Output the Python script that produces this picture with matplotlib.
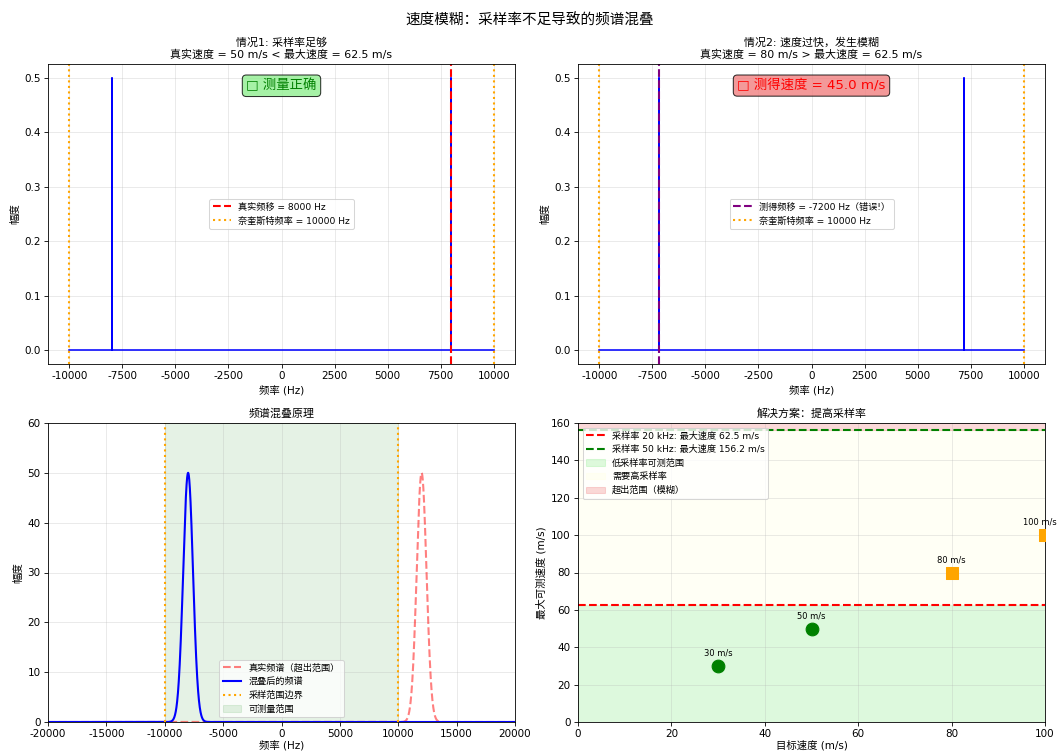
import numpy as np
import matplotlib
matplotlib.use("Agg")
import matplotlib.pyplot as plt

plt.rcParams['font.family'] = ['DejaVu Sans', 'Noto Sans CJK SC']
plt.rcParams['axes.unicode_minus'] = False

# ---------------- data ----------------
nyquist = 10000                  # Hz (fs = 20 kHz)
v_max_low = 62.5                 # m/s at 20 kHz
v_max_high = 156.25              # m/s at 50 kHz

# case 1: spectrum peaks
case1_peak_freqs = [-8000, 8000]
case1_peak_amps = [0.5, 0.5]
case1_true_shift = 8000

# case 2: spectrum peaks (aliased)
case2_peak_freqs = [-7200, 7200]
case2_peak_amps = [0.5, 0.5]
case2_measured_shift = -7200
case2_measured_speed = 45.0

# aliasing principle (gaussian peaks: center, height, width)
true_peak_center = 12000
alias_peak_center = -8000
peak_height = 50
peak_sigma = 420
alias_xlim = [-20000, 20000]

# solution panel
target_speeds = [30, 50, 80, 100]
speed_labels = ['30 m/s', '50 m/s', '80 m/s', '100 m/s']

# ---------------- figure ----------------
W, H = 1059, 751
fig = plt.figure(figsize=(W / 75, H / 75), dpi=75)

def ax_at(l, t, r, b):
    return fig.add_axes([l / W, 1 - b / H, (r - l) / W, (b - t) / H])

ax1 = ax_at(48, 64, 515, 364)
ax2 = ax_at(578, 64, 1045, 364)
ax3 = ax_at(48, 423, 515, 722)
ax4 = ax_at(578, 423, 1045, 722)

TITLE_FS = 10.5
LEG_FS = 8.8

fig.suptitle('速度模糊：采样率不足导致的频谱混叠', fontsize=14, y=1 - 20 / H, va='center')


def spike_line(peaks, amps, lo, hi):
    xs, ys = [lo], [0.0]
    for f, a in sorted(zip(peaks, amps)):
        xs += [f, f, f]
        ys += [0.0, a, 0.0]
    xs.append(hi)
    ys.append(0.0)
    return xs, ys


# ---- panel 1 ----
x, y = spike_line(case1_peak_freqs, case1_peak_amps, -nyquist, nyquist)
ax1.plot(x, y, 'b-', linewidth=1.5)
ax1.axvline(case1_true_shift, color='r', linestyle='--', linewidth=2,
            label=f'真实频移 = {case1_true_shift} Hz')
ax1.axvline(nyquist, color='orange', linestyle=':', linewidth=2,
            label=f'奈奎斯特频率 = {nyquist} Hz')
ax1.axvline(-nyquist, color='orange', linestyle=':', linewidth=2)
ax1.set_title('情况1: 采样率足够\n真实速度 = 50 m/s < 最大速度 = 62.5 m/s', fontsize=TITLE_FS)
ax1.set_xlabel('频率 (Hz)')
ax1.set_ylabel('幅度')
ax1.legend(loc='center', fontsize=LEG_FS)
ax1.grid(True, alpha=0.3)
ax1.text(0.5, 0.95, '□ 测量正确', transform=ax1.transAxes, ha='center', va='top',
         fontsize=12.8, color='green',
         bbox=dict(boxstyle='round', facecolor='lightgreen', alpha=0.8))

# ---- panel 2 ----
x, y = spike_line(case2_peak_freqs, case2_peak_amps, -nyquist, nyquist)
ax2.plot(x, y, 'b-', linewidth=1.5)
ax2.axvline(case2_measured_shift, color='purple', linestyle='--', linewidth=2,
            label=f'测得频移 = {case2_measured_shift} Hz（错误!）')
ax2.axvline(nyquist, color='orange', linestyle=':', linewidth=2,
            label=f'奈奎斯特频率 = {nyquist} Hz')
ax2.axvline(-nyquist, color='orange', linestyle=':', linewidth=2)
ax2.set_title('情况2: 速度过快，发生模糊\n真实速度 = 80 m/s > 最大速度 = 62.5 m/s', fontsize=TITLE_FS)
ax2.set_xlabel('频率 (Hz)')
ax2.set_ylabel('幅度')
ax2.legend(loc='center', fontsize=LEG_FS)
ax2.grid(True, alpha=0.3)
ax2.text(0.5, 0.95, f'□ 测得速度 = {case2_measured_speed:.1f} m/s', transform=ax2.transAxes,
         ha='center', va='top', fontsize=12.8, color='red',
         bbox=dict(boxstyle='round', facecolor='lightcoral', alpha=0.8))

# ---- panel 3 ----
f_axis = np.linspace(alias_xlim[0], alias_xlim[1], 4001)
true_spec = peak_height * np.exp(-(f_axis - true_peak_center) ** 2 / (2 * peak_sigma ** 2))
alias_spec = peak_height * np.exp(-(f_axis - alias_peak_center) ** 2 / (2 * peak_sigma ** 2))
ax3.plot(f_axis, true_spec, 'r--', linewidth=2, alpha=0.5, label='真实频谱（超出范围）')
ax3.plot(f_axis, alias_spec, 'b-', linewidth=2, label='混叠后的频谱')
ax3.axvline(nyquist, color='orange', linestyle=':', linewidth=2, label='采样范围边界')
ax3.axvline(-nyquist, color='orange', linestyle=':', linewidth=2)
ax3.axvspan(-nyquist, nyquist, color='green', alpha=0.1, label='可测量范围')
ax3.set_xlim(alias_xlim)
ax3.set_ylim(0, 60)
ax3.set_title('频谱混叠原理', fontsize=TITLE_FS)
ax3.set_xlabel('频率 (Hz)', labelpad=1)
ax3.set_ylabel('幅度')
ax3.legend(loc='lower center', fontsize=LEG_FS)
ax3.grid(True, alpha=0.3)

# ---- panel 4 ----
ax4.axhline(v_max_low, color='r', linestyle='--', linewidth=2,
            label=f'采样率 20 kHz: 最大速度 {v_max_low:.1f} m/s')
ax4.axhline(v_max_high, color='g', linestyle='--', linewidth=2,
            label=f'采样率 50 kHz: 最大速度 {v_max_high:.1f} m/s')
ax4.axhspan(0, v_max_low, color='lightgreen', alpha=0.3, label='低采样率可测范围')
ax4.axhspan(v_max_low, v_max_high, color='lightyellow', alpha=0.3, label='需要高采样率')
ax4.axhspan(v_max_high, 200, color='lightcoral', alpha=0.3, label='超出范围（模糊）')
xmax4 = 100
for v, lab in zip(target_speeds, speed_labels):
    if v <= v_max_low:
        ax4.scatter(v, v, s=150, color='green', marker='o', zorder=5)
    else:
        ax4.scatter(v, v, s=150, color='orange', marker='s', zorder=5)
    if v >= xmax4:
        ax4.annotate(lab, (v, v), textcoords='offset points', xytext=(11, 10),
                     ha='right', fontsize=8, annotation_clip=False)
    else:
        ax4.annotate(lab, (v, v), textcoords='offset points', xytext=(0, 10),
                     ha='center', fontsize=8)
ax4.set_xlim(0, xmax4)
ax4.set_ylim(0, 160)
ax4.set_title('解决方案：提高采样率', fontsize=TITLE_FS)
ax4.set_xlabel('目标速度 (m/s)', labelpad=1)
ax4.set_ylabel('最大可测速度 (m/s)')
ax4.legend(loc='upper left', fontsize=LEG_FS)
ax4.grid(True, alpha=0.3)

fig.savefig('out.png', dpi=75)
